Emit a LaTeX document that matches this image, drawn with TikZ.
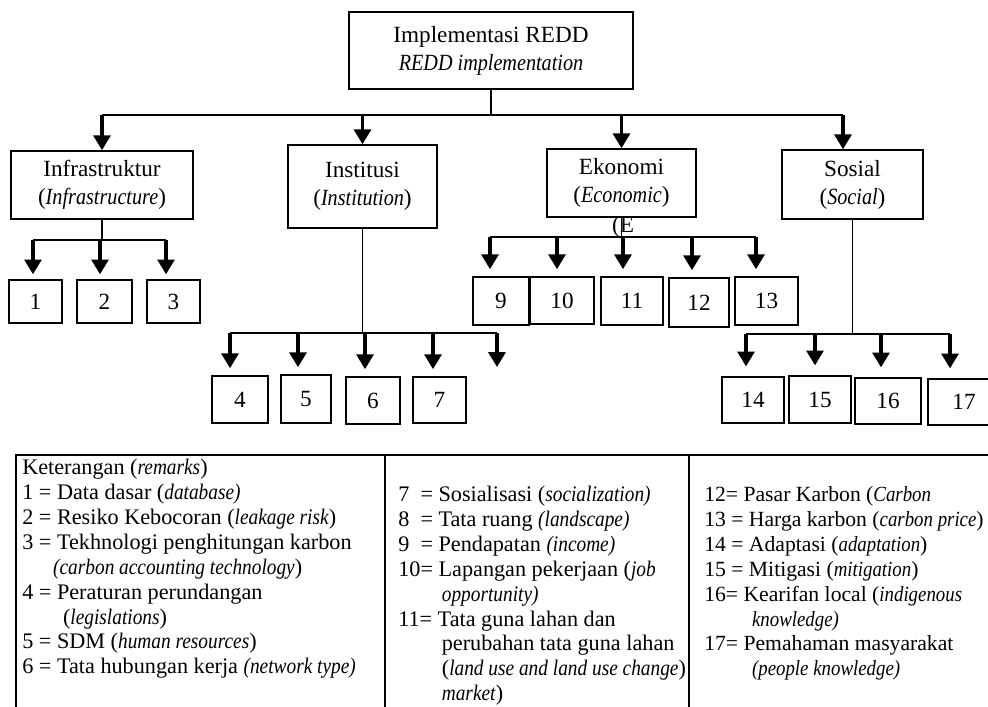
\documentclass[tikz,border=0pt]{standalone}
\usepackage{fontspec}
\setmainfont{Liberation Serif}[ItalicFeatures={FakeStretch=0.87}]
\usetikzlibrary{arrows.meta}

\tikzset{
  link/.style={line width=1.1pt},
  arr/.style={line width=2.3pt, -{Triangle[width=12pt,length=10.5pt]}},
  box/.style={draw, line width=1.1pt, inner sep=0pt, align=center,
    font=\fontsize{16.5}{20}\selectfont},
  wh/.style 2 args={minimum width=#1*0.025cm, minimum height=#2*0.025cm},
  legend/.style={anchor=north west, inner sep=0pt, align=left,
    font=\fontsize{15.8}{17.7}\selectfont},
  frame/.style={line width=1.8pt}
}

\begin{document}
\begin{tikzpicture}[x=0.025cm, y=-0.025cm]
  \useasboundingbox (0,0) rectangle (988,707);

  % main boxes
  \node[box, wh={284}{77}] (redd) at (491,50.5) {Implementasi REDD\\\textit{REDD implementation}};
  \node[box, wh={182}{68}] (infra) at (102,185) {Infrastruktur\\(\textit{Infrastructure})};
  \node[box, wh={149}{83}] (inst) at (362.5,186.5) {Institusi\\(\textit{Institution})};
  \node[box, wh={149}{68}] (eko) at (621.5,183) {Ekonomi\\(\textit{Economic})};
  \node[box, wh={141}{69}] (sos) at (852.5,184.5) {Sosial\\(\textit{Social})};
  \node[font=\fontsize{16.5}{18}\selectfont, inner sep=0pt] (eko-stray) at (623,227) {(E};

  % numbered boxes
  \node[box, wh={53}{43}] (n1) at (35.5,301.5) {1};
  \node[box, wh={55}{43}] (n2) at (104.5,301.5) {2};
  \node[box, wh={53}{43}] (n3) at (173.5,301.5) {3};
  \node[box, wh={56}{47}] (n4) at (240,399.5) {4};
  \node[box, wh={50}{48}] (n5) at (306,399) {5};
  \node[box, wh={54}{47}] (n6) at (373,400.5) {6};
  \node[box, wh={53}{46}] (n7) at (439.5,400) {7};
  \node[box, wh={56}{48}] (n9) at (501,301) {9};
  \node[box, wh={64}{47}] (n10) at (562,300.5) {10};
  \node[box, wh={62}{48}] (n11) at (632,301) {11};
  \node[box, wh={60}{49}] (n12) at (699,302.5) {12};
  \node[box, wh={63}{48}] (n13) at (766.5,301) {13};
  \node[box, wh={62}{46}] (n14) at (753,400) {14};
  \node[box, wh={62}{47}] (n15) at (820,399.5) {15};
  \node[box, wh={66}{46}] (n16) at (888,401) {16};
  \node[box, wh={72}{46}] (n17) at (964,402) {17};

  % top level
  \coordinate (top-l) at (102,115);
  \coordinate (top-r) at (843,115);
  \draw[link] (redd.south) -- (redd.south |- top-l);
  \draw[link] (top-l) -- (top-r);
  \draw[arr] (top-l) -- (infra.north);
  \draw[arr] (inst.north |- top-l) -- (inst.north);
  \draw[arr] (eko.north |- top-l) -- (eko.north);
  \draw[arr] (top-r) -- (top-r |- sos.north);

  % infrastruktur
  \coordinate (infra-l) at (33,240);
  \coordinate (infra-r) at (166,240);
  \draw[link] (infra.south) -- (infra.south |- infra-l);
  \draw[link] (infra-l) -- (infra-r);
  \foreach \x [count=\i] in {33,100,166} {
    \coordinate (infra-a\i) at (\x,240);
    \draw[arr, shorten >=3.5pt] (infra-a\i) -- (infra-a\i |- n\i.north);
  }

  % institusi
  \coordinate (inst-l) at (230,333);
  \coordinate (inst-r) at (497,333);
  \coordinate (inst-e) at (497,367);
  \draw[link] (inst.south) -- (inst.south |- inst-l);
  \draw[link] (inst-l) -- (inst-r);
  \foreach \x [count=\i from 4] in {230,298,365,433} {
    \coordinate (inst-a\i) at (\x,333);
    \draw[arr, shorten >=5pt] (inst-a\i) -- (inst-a\i |- n\i.north);
  }
  \draw[arr] (inst-r) -- (inst-e);

  % ekonomi
  \coordinate (eko-l) at (490,237);
  \coordinate (eko-r) at (756,237);
  \draw[link] (eko.south) -- (eko.south |- eko-l);
  \draw[link] (eko-l) -- (eko-r);
  \foreach \x [count=\i from 9] in {490,557,623,692,756} {
    \coordinate (eko-a\i) at (\x,237);
    \draw[arr, shorten >=5pt] (eko-a\i) -- (eko-a\i |- n\i.north);
  }

  % sosial
  \coordinate (sos-l) at (746,334);
  \coordinate (sos-r) at (950,334);
  \draw[link] (sos.south) -- (sos.south |- sos-l);
  \draw[link] (sos-l) -- (sos-r);
  \foreach \x [count=\i from 14] in {746,815,881,950} {
    \coordinate (sos-a\i) at (\x,334);
    \draw[arr, shorten >=7pt] (sos-a\i) -- (sos-a\i |- n\i.north);
  }

  % keterangan
  \draw[frame] (16,712) -- (16,455) -- (995,455);
  \draw[frame] (385,455) -- (385,712);
  \draw[frame] (689,455) -- (689,712);

  \node[legend] (ket-a) at (22,459) {Keterangan (\textit{remarks})\\
    1 = Data dasar (\textit{database)}\\
    2 = Resiko Kebocoran (\textit{leakage risk})\\
    3 = Tekhnologi penghitungan karbon\\
    \hspace*{22pt}\textit{(carbon accounting technology})\\
    4 = Peraturan perundangan\\
    \hspace*{29pt}(\textit{legislations})\\
    5 = SDM (\textit{human resources})\\
    6 = Tata hubungan kerja \textit{(network type)}};
  \node[legend] (ket-b) at (398,459) {\strut\\
    7\ \ = Sosialisasi (\textit{socialization)}\\
    8\ \ = Tata ruang \textit{(landscape)}\\
    9\ \ = Pendapatan \textit{(income)}\\
    10= Lapangan pekerjaan (\textit{job}\\
    \hspace*{31pt}\textit{opportunity)}\\
    11= Tata guna lahan dan\\
    \hspace*{31pt}perubahan tata guna lahan\\
    \hspace*{31pt}(\textit{land use and land use change})\\
    \hspace*{31pt}\textit{market})};
  \node[legend, font=\fontsize{15.4}{17.7}\selectfont] (ket-c) at (704,459) {\strut\\
    12= Pasar Karbon (\textit{Carbon}\\
    13 = Harga karbon (\textit{carbon price})\\
    14 = Adaptasi (\textit{adaptation})\\
    15 = Mitigasi (\textit{mitigation})\\
    16= Kearifan local (\textit{indigenous}\\
    \hspace*{34pt}\textit{knowledge)}\\
    17= Pemahaman masyarakat\\
    \hspace*{34pt}\textit{(people knowledge)}};
\end{tikzpicture}
\end{document}
